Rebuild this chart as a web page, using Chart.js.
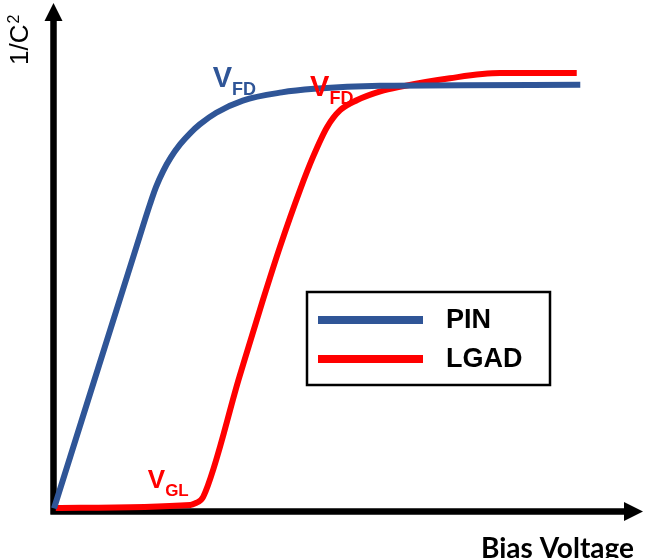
<!DOCTYPE html>
<html>
<head>
<meta charset="utf-8">
<script src="https://cdn.jsdelivr.net/npm/chart.js@4"></script>
<style>
  body { margin: 0; background: #fff; }
  canvas { display: block; }
</style>
</head>
<body>
<canvas id="cvChart" width="646" height="558"></canvas>
<script>
// bias voltage (arb. units) and 1/C^2 (arb. units)
var pin_x = [0, 14.1, 16.3, 17.3, 18.5, 19.8, 21.4, 23.1, 24.7, 27.5, 32.0, 38.6, 44.1, 55.3, 89.2];
var pin_y = [0.5, 52.5, 60.5, 63.8, 66.9, 69.6, 72.2, 74.4, 76.1, 78.4, 80.8, 82.4, 83.1, 83.7, 83.9];

var lgad_x = [0.3, 23.1, 23.9, 25.3, 31.5, 35.4, 38.3, 41.7, 43.9, 46.3, 48.5, 51.4, 55.3, 58.6, 67.1, 75.6, 88.6];
var lgad_y = [0.6, 1.2, 1.5, 2.8, 26.7, 41.5, 52.0, 63.2, 69.7, 75.6, 78.9, 80.9, 82.6, 83.5, 85.2, 86.2, 86.2];

var series_names = ['PIN', 'LGAD'];
var series_colors = ['#2F5597', '#FF0000'];

// V labels: main letter, subscript, anchor in data units
var v_labels = [
    { main: 'V', sub: 'FD', x: 26.9, y: 83.5, color: '#2F5597' },
    { main: 'V', sub: 'FD', x: 43.4, y: 81.7, color: '#FF0000' },
    { main: 'V', sub: 'GL', x: 15.9, y: 4.5, color: '#FF0000' }
];

var y_title = '1/C';
var x_title = 'Bias Voltage';

function toPoints(xs, ys) {
    return xs.map((x, i) => ({ x: x, y: ys[i] }));
}

const ARIAL = '"Liberation Sans", Arial, sans-serif';

// arrows for both axes, drawn under the curves
const axesPlugin = {
    id: 'arrowAxes',
    beforeDatasetsDraw(chart) {
        const ctx = chart.ctx;
        const xs = chart.scales.x, ys = chart.scales.y;
        const x0 = xs.getPixelForValue(0) - 0.5;
        const y0 = ys.getPixelForValue(0) + 0.5;
        const top = chart.chartArea.top;
        const right = chart.chartArea.right - 1;

        ctx.save();
        ctx.strokeStyle = '#000';
        ctx.fillStyle = '#000';
        ctx.lineWidth = 6.5;
        ctx.lineCap = 'butt';

        ctx.beginPath();
        ctx.moveTo(x0, y0 + 3);
        ctx.lineTo(x0, top + 18);
        ctx.moveTo(x0 - 3, y0);
        ctx.lineTo(right - 18, y0);
        ctx.stroke();

        ctx.beginPath();
        ctx.moveTo(x0, top);
        ctx.lineTo(x0 + 9, top + 18);
        ctx.lineTo(x0 - 9, top + 18);
        ctx.closePath();
        ctx.fill();

        ctx.beginPath();
        ctx.moveTo(right, y0);
        ctx.lineTo(right - 19, y0 - 9.5);
        ctx.lineTo(right - 19, y0 + 9.5);
        ctx.closePath();
        ctx.fill();
        ctx.restore();
    },
    afterDatasetsDraw(chart) {
        const ctx = chart.ctx;
        const xs = chart.scales.x, ys = chart.scales.y;
        const area = chart.chartArea;
        ctx.save();

        // V_FD / V_GL labels
        v_labels.forEach(l => {
            const px = xs.getPixelForValue(l.x);
            const py = ys.getPixelForValue(l.y);
            ctx.fillStyle = l.color;
            ctx.textBaseline = 'alphabetic';
            ctx.textAlign = 'left';
            const big = l.sub == 'GL' ? 26 : 29;
            ctx.font = 'bold ' + big + 'px ' + ARIAL;
            ctx.fillText(l.main, px, py);
            const w = ctx.measureText(l.main).width;
            ctx.font = 'bold ' + (l.sub == 'GL' ? 17 : 18) + 'px ' + ARIAL;
            ctx.fillText(l.sub, px + w, py + 8);
        });

        // y axis title, rotated
        ctx.fillStyle = '#000';
        ctx.translate(28, 65);
        ctx.rotate(-Math.PI / 2);
        ctx.font = '26px ' + ARIAL;
        ctx.textAlign = 'left';
        ctx.fillText(y_title, 0, 0);
        const tw = ctx.measureText(y_title).width;
        ctx.font = '16px ' + ARIAL;
        ctx.fillText('2', tw + 1, -9);
        ctx.setTransform(1, 0, 0, 1, 0, 0);

        // x axis title
        ctx.font = 'bold 28px Lato, "Open Sans", sans-serif';
        ctx.textAlign = 'right';
        ctx.fillText(x_title, area.right - 10, 558);

        // legend box
        const bx = 307, by = 292, bw = 243, bh = 93;
        ctx.lineWidth = 2.5;
        ctx.strokeStyle = '#000';
        ctx.strokeRect(bx, by, bw, bh);
        chart.data.datasets.forEach((ds, i) => {
            const ly = by + 28 + i * 39;
            ctx.strokeStyle = ds.borderColor;
            ctx.lineWidth = 8;
            ctx.beginPath();
            ctx.moveTo(bx + 11, ly);
            ctx.lineTo(bx + 116, ly);
            ctx.stroke();
            ctx.fillStyle = '#000';
            ctx.font = 'bold 27px ' + ARIAL;
            ctx.textAlign = 'left';
            ctx.textBaseline = 'middle';
            ctx.fillText(ds.label, bx + 139, ly + 1);
        });
        ctx.restore();
    }
};

const ctx = document.getElementById('cvChart').getContext('2d');
const myChart = new Chart(ctx, {
    type: 'scatter',
    data: {
        datasets: [
            {
                label: series_names[0],
                data: toPoints(pin_x, pin_y),
                borderColor: series_colors[0],
                backgroundColor: series_colors[0]
            },
            {
                label: series_names[1],
                data: toPoints(lgad_x, lgad_y),
                borderColor: series_colors[1],
                backgroundColor: series_colors[1]
            }
        ]
    },
    options: {
        responsive: false,
        animation: false,
        showLine: true,
        clip: false,
        layout: { padding: { left: 54, right: 2, top: 3, bottom: 47 } },
        elements: {
            point: { radius: 0 },
            line: { borderWidth: 6, cubicInterpolationMode: 'monotone', borderCapStyle: 'butt' }
        },
        scales: {
            x: { type: 'linear', min: 0, max: 100, display: false },
            y: { type: 'linear', min: 0, max: 100, display: false }
        },
        plugins: {
            legend: { display: false },
            tooltip: { enabled: false }
        }
    },
    plugins: [axesPlugin]
});
</script>
</body>
</html>
